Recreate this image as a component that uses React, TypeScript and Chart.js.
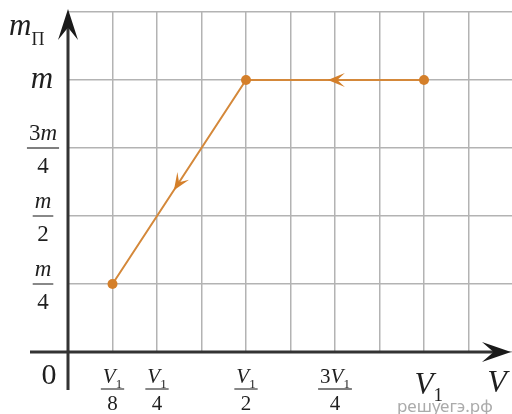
import React, { useEffect, useRef } from "react";
import { Chart, registerables } from "chart.js";

Chart.register(...registerables);

// Process path, listed in the direction of travel (volume in units of V1, mass in units of m)
const volumes = [1, 0.5, 0.125];
const masses = [1, 1, 0.25];

// Tick labels
const xTickValues = [0.125, 0.25, 0.5, 0.75];
const xTickNumerators = ["V₁", "V₁", "V₁", "3V₁"];
const xTickDenominators = ["8", "4", "2", "4"];
const xPlainValues = [1];
const xPlainLabels = ["V₁"];

const yTickValues = [0.25, 0.5, 0.75];
const yTickNumerators = ["m", "m", "3m"];
const yTickDenominators = ["4", "2", "4"];
const yPlainValues = [1];
const yPlainLabels = ["m"];

const xAxisTitle = "V";
const yAxisTitle = "m";
const yAxisTitleSub = "П";
const originLabel = "0";
const watermark = "решуегэ.рф";

const SERIF = '"Liberation Serif", "Times New Roman", serif';
const TEXT = "#1f1f1f";
const ORANGE = "#D4883A";
const ORANGE_PT = "#D47F2A";
const AXIS = "#333333";
const GRID = "#b3b3b3";
const VIEW_W = 512;

type Seg = { t: string; italic: boolean; sub: boolean };

function parseRich(s: string): Seg[] {
  const segs: Seg[] = [];
  for (const ch of s) {
    if (ch === "₁") segs.push({ t: "1", italic: false, sub: true });
    else if (/[0-9]/.test(ch)) segs.push({ t: ch, italic: false, sub: false });
    else segs.push({ t: ch, italic: true, sub: false });
  }
  return segs;
}

function segFont(seg: Seg, size: number) {
  const s = seg.sub ? Math.round(size * 0.6) : size;
  return `${seg.italic ? "italic " : ""}${s}px ${SERIF}`;
}

function measureRich(ctx: CanvasRenderingContext2D, s: string, size: number) {
  let w = 0;
  for (const seg of parseRich(s)) {
    ctx.font = segFont(seg, size);
    w += ctx.measureText(seg.t).width;
  }
  return w;
}

function drawRich(
  ctx: CanvasRenderingContext2D,
  s: string,
  cx: number,
  baseline: number,
  size: number,
  anchorFirst = false
) {
  const segs = parseRich(s);
  let x: number;
  if (anchorFirst) {
    ctx.font = segFont(segs[0], size);
    x = cx - ctx.measureText(segs[0].t).width / 2;
  } else {
    x = cx - measureRich(ctx, s, size) / 2;
  }
  ctx.textAlign = "left";
  ctx.textBaseline = "alphabetic";
  for (const seg of segs) {
    ctx.font = segFont(seg, size);
    const y = seg.sub ? baseline + size * 0.22 : baseline;
    ctx.fillText(seg.t, x, y);
    x += ctx.measureText(seg.t).width;
  }
}

function drawFraction(
  ctx: CanvasRenderingContext2D,
  num: string,
  den: string,
  cx: number,
  barY: number,
  size: number,
  numOffset: number,
  denOffset: number
) {
  const wn = measureRich(ctx, num, size);
  const wd = measureRich(ctx, den, size);
  const bw = Math.max(wn, wd) + 4;
  ctx.fillStyle = TEXT;
  drawRich(ctx, num, cx, barY - numOffset, size);
  drawRich(ctx, den, cx, barY + denOffset, size);
  ctx.strokeStyle = "#555";
  ctx.lineWidth = 1.4;
  ctx.beginPath();
  ctx.moveTo(cx - bw / 2, barY);
  ctx.lineTo(cx + bw / 2, barY);
  ctx.stroke();
}

function notchedArrow(
  ctx: CanvasRenderingContext2D,
  tipX: number,
  tipY: number,
  angle: number,
  len: number,
  half: number,
  notch: number,
  color: string
) {
  ctx.save();
  ctx.translate(tipX, tipY);
  ctx.rotate(angle);
  ctx.fillStyle = color;
  ctx.beginPath();
  ctx.moveTo(0, 0);
  ctx.lineTo(-len, -half);
  ctx.lineTo(-len * notch, 0);
  ctx.lineTo(-len, half);
  ctx.closePath();
  ctx.fill();
  ctx.restore();
}

const decorPlugin = {
  id: "decor",
  beforeDatasetsDraw(chart: any) {
    const ctx: CanvasRenderingContext2D = chart.ctx;
    const xs = chart.scales.x;
    const ys = chart.scales.y;
    const x0 = xs.getPixelForValue(0);
    const y0 = ys.getPixelForValue(0);
    ctx.save();
    ctx.strokeStyle = AXIS;
    ctx.lineWidth = 3;
    ctx.beginPath();
    ctx.moveTo(30, y0);
    ctx.lineTo(VIEW_W - 12, y0);
    ctx.stroke();
    notchedArrow(ctx, VIEW_W - 1, y0, 0, 29, 10, 0.6, "#1a1a1a");
    ctx.beginPath();
    ctx.moveTo(x0, 390);
    ctx.lineTo(x0, 24);
    ctx.stroke();
    notchedArrow(ctx, x0, 9, -Math.PI / 2, 31, 10, 0.6, "#1a1a1a");
    ctx.restore();
  },
  afterDatasetsDraw(chart: any) {
    const ctx: CanvasRenderingContext2D = chart.ctx;
    const xs = chart.scales.x;
    const ys = chart.scales.y;
    const pts = chart.getDatasetMeta(0).data;
    ctx.save();
    for (let i = 0; i < pts.length - 1; i++) {
      const a = pts[i];
      const b = pts[i + 1];
      const t = 0.54;
      const tx = a.x + (b.x - a.x) * t;
      const ty = a.y + (b.y - a.y) * t;
      const ang = Math.atan2(b.y - a.y, b.x - a.x);
      notchedArrow(ctx, tx, ty, ang, 17, 7, 0.55, ORANGE_PT);
    }
    ctx.restore();

    ctx.save();
    ctx.fillStyle = TEXT;
    yTickValues.forEach((v, i) => {
      const py = ys.getPixelForValue(v);
      drawFraction(ctx, yTickNumerators[i], yTickDenominators[i], 43, py, 23, 8, 25);
    });
    yPlainValues.forEach((v, i) => {
      const py = ys.getPixelForValue(v);
      ctx.fillStyle = TEXT;
      drawRich(ctx, yPlainLabels[i], 42, py + 8, 31);
    });
    xTickValues.forEach((v, i) => {
      const px = xs.getPixelForValue(v);
      drawFraction(ctx, xTickNumerators[i], xTickDenominators[i], px, 389, 21, 6, 21);
    });
    xPlainValues.forEach((v, i) => {
      const px = xs.getPixelForValue(v);
      ctx.fillStyle = TEXT;
      drawRich(ctx, xPlainLabels[i], px, 394, 31, true);
    });
    ctx.fillStyle = TEXT;
    ctx.font = `30px ${SERIF}`;
    ctx.textAlign = "center";
    ctx.textBaseline = "alphabetic";
    ctx.fillText(originLabel, 49, 384);
    ctx.font = `italic 32px ${SERIF}`;
    ctx.fillText(xAxisTitle, 497, 392);
    ctx.textAlign = "left";
    ctx.font = `italic 31px ${SERIF}`;
    ctx.fillText(yAxisTitle, 9, 35);
    const mw = ctx.measureText(yAxisTitle).width;
    ctx.font = `18px ${SERIF}`;
    ctx.fillText(yAxisTitleSub, 9 + mw, 45);
    ctx.fillStyle = "#ababab";
    ctx.font = `17px "Noto Sans", sans-serif`;
    ctx.fillText(watermark, 397, 412);
    ctx.restore();
  },
};

export default function App() {
  const ref = useRef<HTMLCanvasElement | null>(null);
  useEffect(() => {
    if (!ref.current) return;
    const chart = new Chart(ref.current, {
      type: "scatter",
      data: {
        datasets: [
          {
            data: volumes.map((v, i) => ({ x: v, y: masses[i] })),
            showLine: true,
            borderColor: ORANGE,
            borderWidth: 2,
            pointRadius: 5,
            pointBackgroundColor: ORANGE_PT,
            pointBorderColor: ORANGE_PT,
            pointBorderWidth: 0,
          },
        ],
      },
      options: {
        animation: false,
        responsive: true,
        maintainAspectRatio: false,
        events: [],
        layout: { padding: { left: 68, right: 0, top: 12, bottom: 62 } },
        plugins: { legend: { display: false }, tooltip: { enabled: false } },
        scales: {
          x: {
            type: "linear",
            min: 0,
            max: 1.25,
            ticks: { display: false, stepSize: 0.125 },
            grid: { color: GRID, lineWidth: 1.5, drawTicks: false },
            border: { display: false },
          },
          y: {
            type: "linear",
            min: 0,
            max: 1.25,
            ticks: { display: false, stepSize: 0.25 },
            grid: { color: GRID, lineWidth: 1.5, drawTicks: false },
            border: { display: false },
          },
        },
      },
      plugins: [decorPlugin],
    });
    return () => chart.destroy();
  }, []);
  return (
    <div style={{ position: "fixed", left: 0, top: 0, width: VIEW_W, height: 414, overflow: "hidden", background: "#fff" }}>
      <div style={{ position: "relative", width: VIEW_W + 6, height: 414 }}>
        <canvas ref={ref} />
      </div>
    </div>
  );
}
